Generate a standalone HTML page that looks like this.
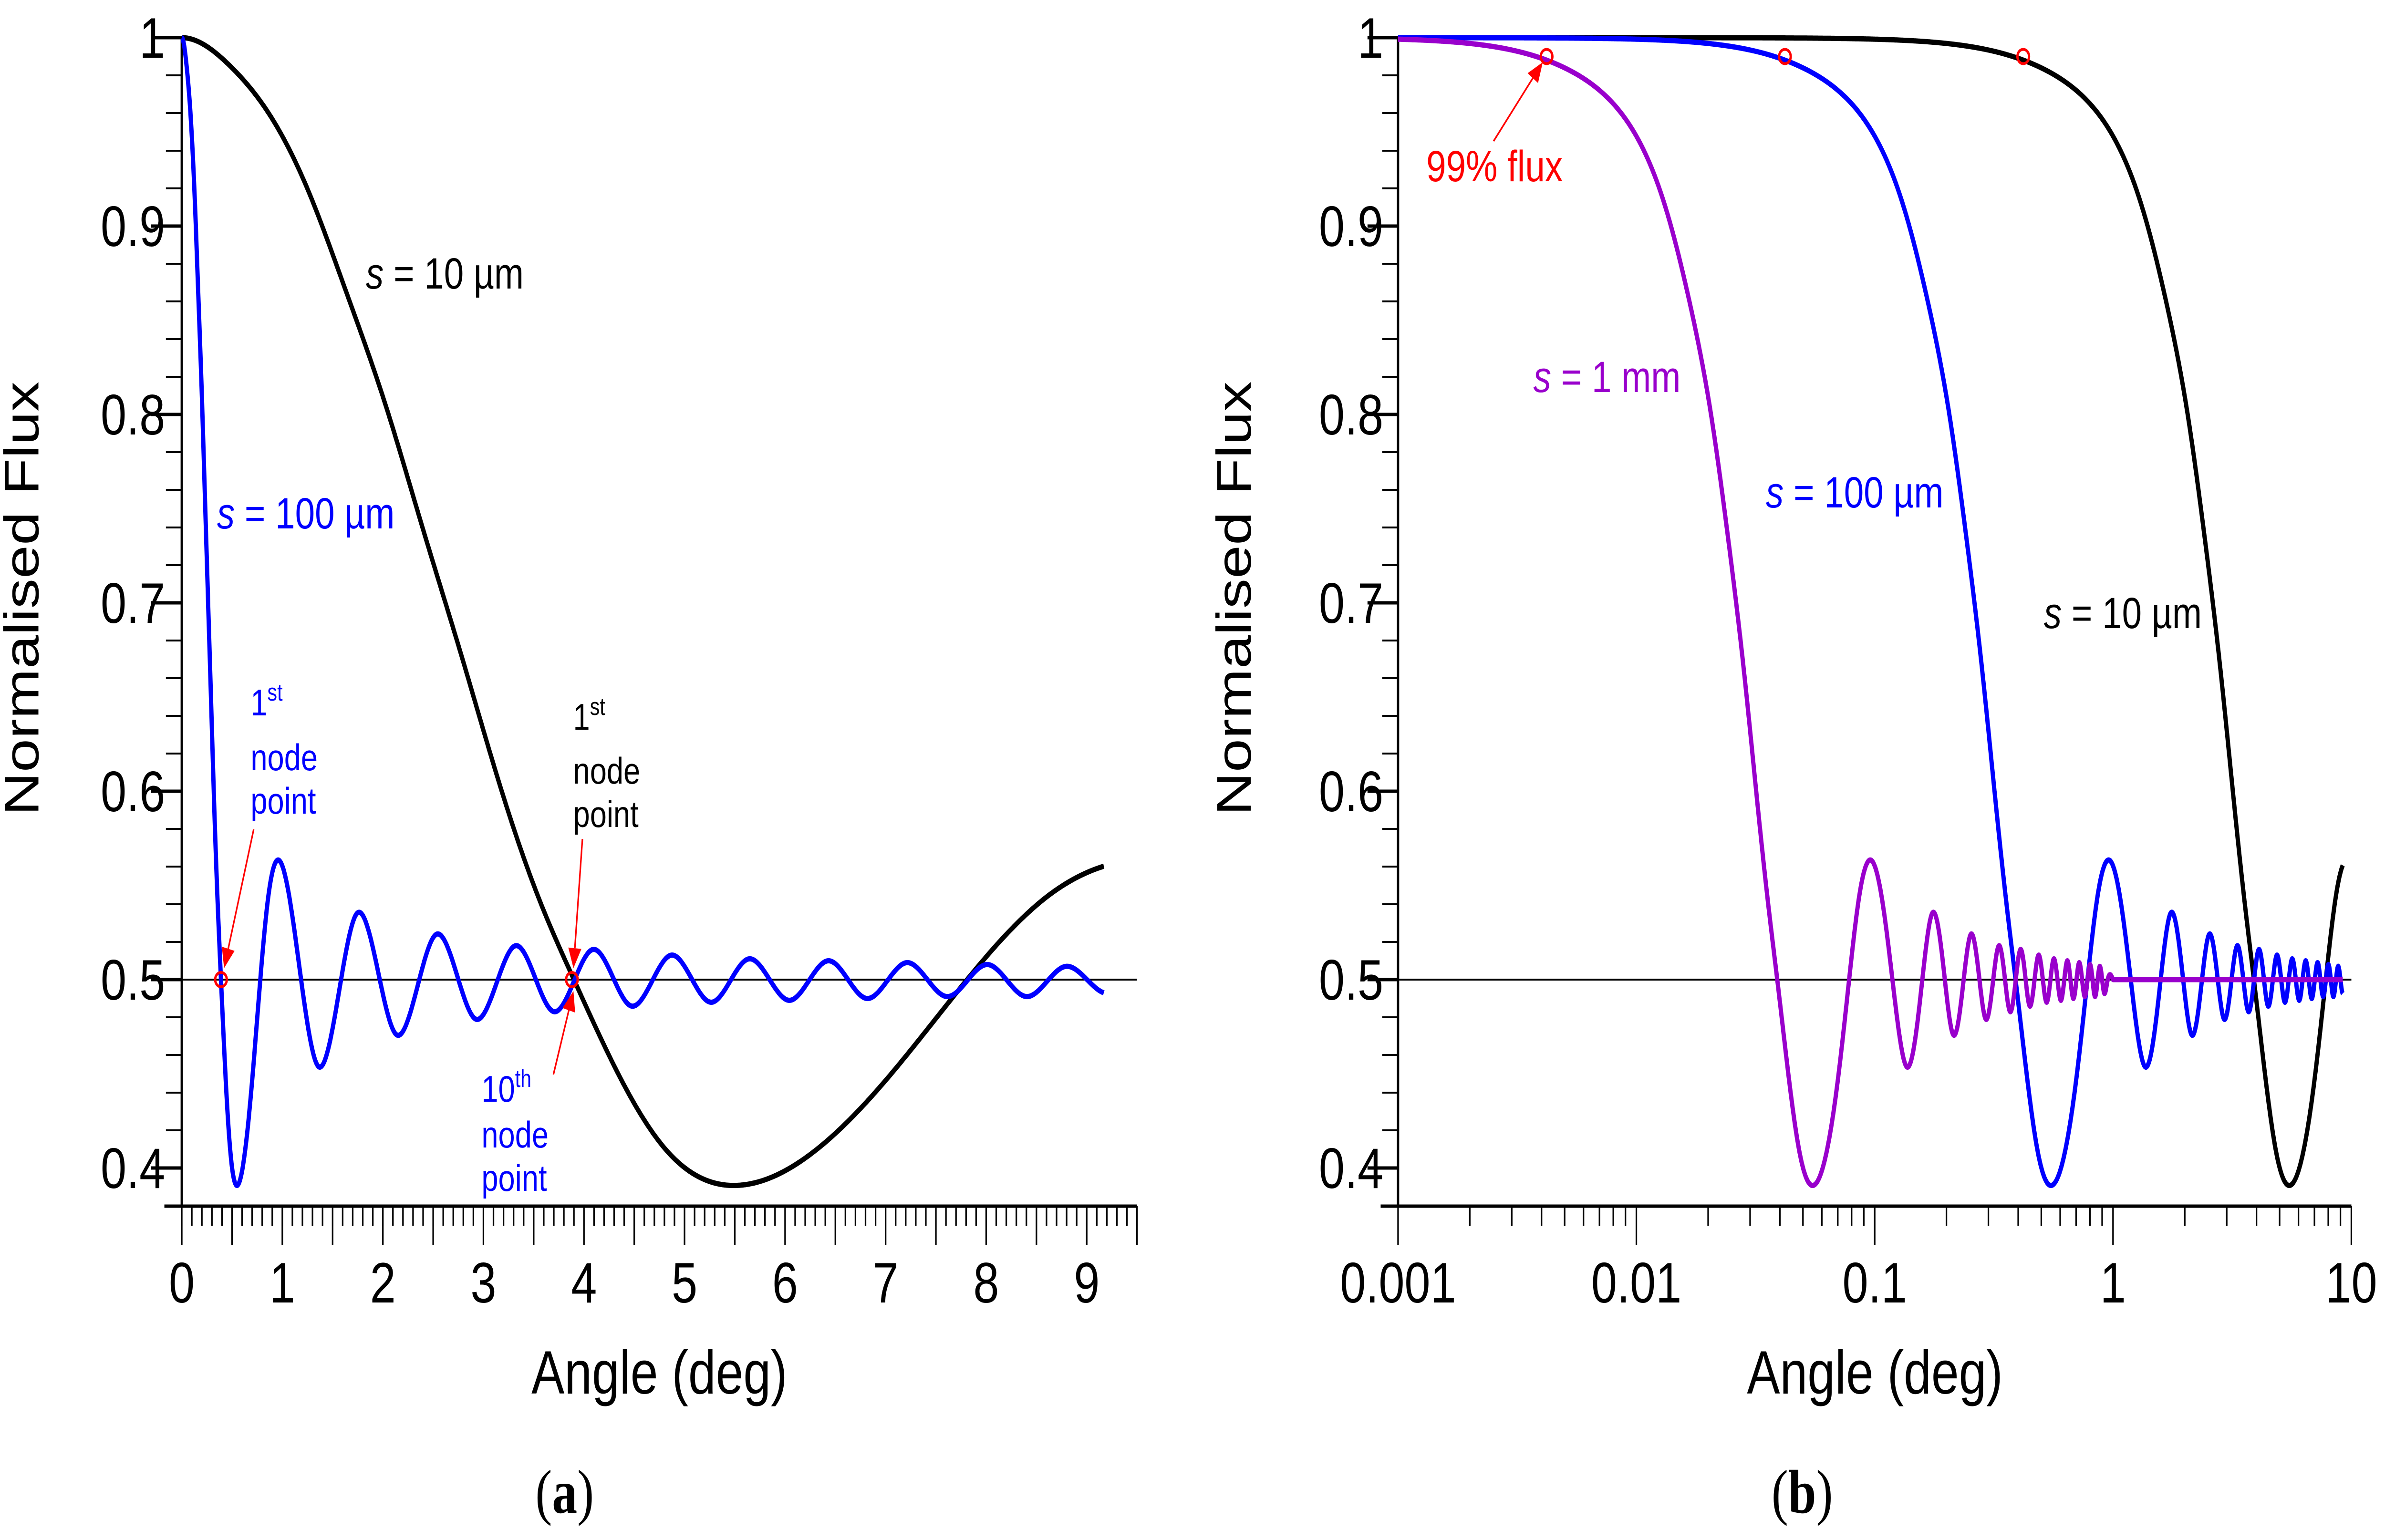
<!DOCTYPE html>
<html><head><meta charset="utf-8"><style>
html,body{margin:0;padding:0;background:#fff;width:100%;height:100%;overflow:hidden;}
svg{display:block;font-family:"Liberation Sans",sans-serif;width:100vw;height:100vh;}
</style></head><body>
<svg id="chart" viewBox="0 0 6167 3229" preserveAspectRatio="none" xmlns="http://www.w3.org/2000/svg">
<rect width="6167" height="3229" fill="#fff"/>
<g id="pa"></g>
<g id="pb"></g>
</svg>
<script>
// Base curve (s = 100 µm), angle in degrees vs normalised flux
const baseAngle = [0, 0.0471, 0.0863, 0.1256, 0.1629, 0.2021, 0.2394, 0.2787, 0.3159, 0.3552, 0.39, 0.435, 0.481, 0.558, 0.627, 0.704, 0.781, 0.858, 0.96, 1.357, 1.74, 2.13, 2.53, 2.925, 3.32, 3.70, 4.09, 4.47, 4.87, 5.26, 5.64, 6.04, 6.43, 6.81, 7.21, 7.61, 8.01, 8.40, 8.79, 9.17, 9.5, 10];
const baseFlux = [1, 0.9855, 0.96, 0.919, 0.866, 0.806, 0.74, 0.671, 0.604, 0.543, 0.5, 0.449, 0.41, 0.391, 0.408, 0.449, 0.5, 0.543, 0.5635, 0.454, 0.535, 0.471, 0.524, 0.479, 0.518, 0.483, 0.516, 0.486, 0.513, 0.488, 0.511, 0.489, 0.51, 0.49, 0.509, 0.491, 0.508, 0.491, 0.507, 0.493, 0.5, 0.5];
// series: angular scale factor relative to s = 100 µm
const seriesLabels = ["s10um", "s100um", "s1mm"];
const seriesFactor = [10, 1, 0.1];
const seriesColor = ["#000000", "#0000ff", "#9900cc"];
const angleMax = 9.2;
const yTicks = [0.4, 0.5, 0.6, 0.7, 0.8, 0.9, 1];
const yTickLabels = ["0.4", "0.5", "0.6", "0.7", "0.8", "0.9", "1"];
const xTicksA = [0, 1, 2, 3, 4, 5, 6, 7, 8, 9];
const xTicksB = [0.001, 0.01, 0.1, 1, 10];
const xTickLabelsB = ["0.001", "0.01", "0.1", "1", "10"];
const nodeAnglesA = [0.39, 3.88];
const flux99 = 0.99;
const flux99Angle = 0.042;

const NS = "http://www.w3.org/2000/svg";
function mk(parent, tag, attrs, text) {
  const e = document.createElementNS(NS, tag);
  for (const k in attrs) e.setAttribute(k, attrs[k]);
  if (text !== undefined) e.textContent = text;
  parent.appendChild(e);
  return e;
}
// natural cubic spline, curve mirrored about angle 0 so it starts flat
const SX = baseAngle.slice(1, 4).reverse().map(v => -v).concat(baseAngle);
const SY = baseFlux.slice(1, 4).reverse().concat(baseFlux);
const n = SX.length;
const M2 = (function () {
  const h = [], a = new Array(n).fill(0), b = new Array(n).fill(1), c = new Array(n).fill(0), r = new Array(n).fill(0);
  for (let i = 0; i < n - 1; i++) h.push(SX[i + 1] - SX[i]);
  for (let i = 1; i < n - 1; i++) {
    a[i] = h[i - 1]; b[i] = 2 * (h[i - 1] + h[i]); c[i] = h[i];
    r[i] = 6 * ((SY[i + 1] - SY[i]) / h[i] - (SY[i] - SY[i - 1]) / h[i - 1]);
  }
  for (let i = 1; i < n; i++) { const w = a[i] / b[i - 1]; b[i] -= w * c[i - 1]; r[i] -= w * r[i - 1]; }
  const m = new Array(n).fill(0);
  m[n - 1] = r[n - 1] / b[n - 1];
  for (let i = n - 2; i >= 0; i--) m[i] = (r[i] - c[i] * m[i + 1]) / b[i];
  m[0] = 0; m[n - 1] = 0;
  return m;
})();
function f(u) {
  if (u <= SX[0]) return SY[0];
  if (u >= SX[n - 1]) return SY[n - 1];
  let i = 0; while (SX[i + 1] < u) i++;
  const h = SX[i + 1] - SX[i], A = (SX[i + 1] - u) / h, B = 1 - A;
  return A * SY[i] + B * SY[i + 1] + ((A*A*A - A) * M2[i] + (B*B*B - B) * M2[i + 1]) * h * h / 6;
}
function yS(v) { return 2449 - (v - 0.4) * 3950; }

function axesY(g, x0, labelRight, titleX) {
  const yAxis = mk(g, "line", {x1: x0, y1: yS(1), x2: x0, y2: 2529, stroke: "#000", "stroke-width": 6});
  
  
  for (let v = 0.38; v <= 1.0001; v += 0.02) {
    const major = Math.abs(v * 10 - Math.round(v * 10)) < 1e-6;
    const t = mk(g, "line", {x1: x0 - (major ? 79 : 41), y1: yS(v), x2: x0, y2: yS(v), stroke: "#000", "stroke-width": major ? 7 : 4});
    
    
  }
  yTicks.forEach((v, i) => {
    const t = mk(g, "text", {x: labelRight, y: yS(v) + 42, "font-size": 120, "text-anchor": "end"}, yTickLabels[i]);
    
    
  });
  const tt = mk(g, "text", {x: 0, y: 0, "font-size": 126, "text-anchor": "middle", transform: `translate(${titleX + 44},1255) rotate(-90)`}, "Normalised Flux");
  
  
}
function text(g, x, y, size, color, parts, name) {
  const t = mk(g, "text", {x: x, y: y, "font-size": size, fill: color});
  
  
  parts.forEach(p => {
    mk(t, "tspan", p.sup ? {"font-size": size * 0.65, dy: -size * 0.4} : (p.it ? {"font-style": "italic"} : {}), p.t);
  });
  return t;
}
function arrow(g, x1, y1, x2, y2, name) {
  const a = Math.atan2(y2 - y1, x2 - x1), L = 42, W = 17;
  const bx = x2 - L * Math.cos(a), by = y2 - L * Math.sin(a);
  const l = mk(g, "line", {x1: x1, y1: y1, x2: bx, y2: by, stroke: "#ff0000", "stroke-width": 4});
  
  
  const p = mk(g, "polygon", {points: `${x2},${y2} ${bx + W*Math.sin(a)},${by - W*Math.cos(a)} ${bx - W*Math.sin(a)},${by + W*Math.cos(a)}`, fill: "#ff0000"});
  
  
}
function circle(g, x, y, name) {
  const c = mk(g, "circle", {cx: x, cy: y, r: 15, fill: "none", stroke: "#ff0000", "stroke-width": 6});
  
  
}

// ---------- Panel A (linear) ----------
(function () {
  const g = document.getElementById("pa");
  const X0 = 470, PX = 260, XEND = 9.5;
  const xS = a => X0 + a * PX;
  const xl = mk(g, "line", {x1: X0 - 45, y1: 2529, x2: xS(XEND), y2: 2529, stroke: "#000", "stroke-width": 7});
  
  
  for (let k = 0; k <= 95; k++) {
    const major = k % 5 === 0;
    const t = mk(g, "line", {x1: xS(k / 10), y1: 2529, x2: xS(k / 10), y2: 2529 + (major ? 82 : 41), stroke: "#000", "stroke-width": 4});
    
    
  }
  xTicksA.forEach(v => {
    const t = mk(g, "text", {x: xS(v), y: 2731, "font-size": 120, "text-anchor": "middle"}, String(v));
    
    
  });
  axesY(g, X0, 427, 55);
  const ref = mk(g, "line", {x1: X0, y1: yS(0.5), x2: xS(XEND), y2: yS(0.5), stroke: "#000", "stroke-width": 4});
  
  
  [0, 1].forEach(si => {
    let d = "";
    for (let i = 0; i <= 3000; i++) {
      const a = 9.17 * i / 3000;
      d += (i ? "L" : "M") + xS(a).toFixed(1) + "," + yS(f(a / seriesFactor[si])).toFixed(1);
    }
    const p = mk(g, "path", {d: d, fill: "none", stroke: seriesColor[si], "stroke-width": 11, "stroke-linejoin": "round"});
    
    
  });
  const at = mk(g, "text", {x: 1705, y: 2922, "font-size": 128, "text-anchor": "middle"}, "Angle (deg)");
  
  
  const pl = mk(g, "text", {x: 1460, y: 3172, "font-size": 130, "font-family": "Liberation Serif, serif", "text-anchor": "middle"});
  
  
  mk(pl, "tspan", {}, "(");
  mk(pl, "tspan", {"font-weight": "bold"}, "a");
  mk(pl, "tspan", {}, ")");
  text(g, 946, 605, 92, "#000", [{t: "s", it: 1}, {t: " = 10 µm"}], "label-s10um");
  text(g, 561, 1108, 92, "#0000ff", [{t: "s", it: 1}, {t: " = 100 µm"}], "label-s100um");
  text(g, 648, 1500, 78, "#0000ff", [{t: "1"}, {t: "st", sup: 1}], "node1-blue-label");
  text(g, 648, 1615, 78, "#0000ff", [{t: "node"}], "node1-blue-label-2");
  text(g, 648, 1706, 78, "#0000ff", [{t: "point"}], "node1-blue-label-3");
  text(g, 1482, 1530, 78, "#000", [{t: "1"}, {t: "st", sup: 1}], "node1-black-label");
  text(g, 1482, 1643, 78, "#000", [{t: "node"}], "node1-black-label-2");
  text(g, 1482, 1734, 78, "#000", [{t: "point"}], "node1-black-label-3");
  text(g, 1245, 2310, 78, "#0000ff", [{t: "10"}, {t: "th", sup: 1}], "node10-blue-label");
  text(g, 1245, 2406, 78, "#0000ff", [{t: "node"}], "node10-blue-label-2");
  text(g, 1245, 2497, 78, "#0000ff", [{t: "point"}], "node10-blue-label-3");
  nodeAnglesA.forEach(a => circle(g, xS(a), yS(0.5), 'node-marker'));
  arrow(g, 656, 1739, xS(nodeAnglesA[0]) + 8, yS(0.5) - 24, 'arrow-node1-blue');
  arrow(g, 1506, 1759, xS(nodeAnglesA[1]) + 4, yS(0.5) - 24, 'arrow-node1-black');
  arrow(g, 1431, 2253, xS(nodeAnglesA[1]) + 4, yS(0.5) + 24, 'arrow-node10-blue');
})();

// ---------- Panel B (log) ----------
(function () {
  const g = document.getElementById("pb");
  const X0 = 3615, DEC = 616.25;
  const xS = a => X0 + (Math.log10(a) + 3) * DEC;
  const xl = mk(g, "line", {x1: X0 - 45, y1: 2529, x2: xS(10), y2: 2529, stroke: "#000", "stroke-width": 7});
  
  
  for (let e = -3; e <= 0; e++) {
    for (let m = 1; m <= 9; m++) {
      const v = m * Math.pow(10, e);
      const t = mk(g, "line", {x1: xS(v), y1: 2529, x2: xS(v), y2: 2529 + (m === 1 ? 82 : 41), stroke: "#000", "stroke-width": 4});
      
      
    }
  }
  const tl = mk(g, "line", {x1: xS(10), y1: 2529, x2: xS(10), y2: 2611, stroke: "#000", "stroke-width": 4});
  
  
  xTicksB.forEach((v, i) => {
    const t = mk(g, "text", {x: xS(v), y: 2731, "font-size": 120, "text-anchor": "middle"}, xTickLabelsB[i]);
    
    
  });
  axesY(g, X0, 3577, 3190);
  const ref = mk(g, "line", {x1: X0, y1: yS(0.5), x2: xS(10), y2: yS(0.5), stroke: "#000", "stroke-width": 4});
  
  
  [0, 1, 2].forEach(si => {
    let d = "";
    const lo = -3, hi = Math.log10(angleMax), N = 6000;
    for (let i = 0; i <= N; i++) {
      const a = Math.pow(10, lo + (hi - lo) * i / N);
      d += (i ? "L" : "M") + xS(a).toFixed(1) + "," + yS(f(a / seriesFactor[si])).toFixed(1);
    }
    const p = mk(g, "path", {d: d, fill: "none", stroke: seriesColor[si], "stroke-width": 11, "stroke-linejoin": "round"});
    
    
  });
  seriesFactor.forEach((fa, si) => circle(g, xS(flux99Angle * fa), yS(flux99), 'flux99-marker-' + seriesLabels[si]));
  text(g, 3688, 380, 92, "#ff0000", [{t: "99% flux"}], "label-99-flux");
  arrow(g, 3862, 296, xS(flux99Angle * 0.1) - 10, yS(flux99) + 12, 'arrow-99-flux');
  text(g, 3965, 822, 92, "#9900cc", [{t: "s", it: 1}, {t: " = 1 mm"}], "label-s1mm");
  text(g, 4566, 1064, 92, "#0000ff", [{t: "s", it: 1}, {t: " = 100 µm"}], "label-s100um");
  text(g, 5285, 1317, 92, "#000", [{t: "s", it: 1}, {t: " = 10 µm"}], "label-s10um");
  const at = mk(g, "text", {x: 4848, y: 2922, "font-size": 128, "text-anchor": "middle"}, "Angle (deg)");
  
  
  const pl = mk(g, "text", {x: 4660, y: 3172, "font-size": 130, "font-family": "Liberation Serif, serif", "text-anchor": "middle"});
  
  
  mk(pl, "tspan", {}, "(");
  mk(pl, "tspan", {"font-weight": "bold"}, "b");
  mk(pl, "tspan", {}, ")");
})();
</script>
</body></html>
